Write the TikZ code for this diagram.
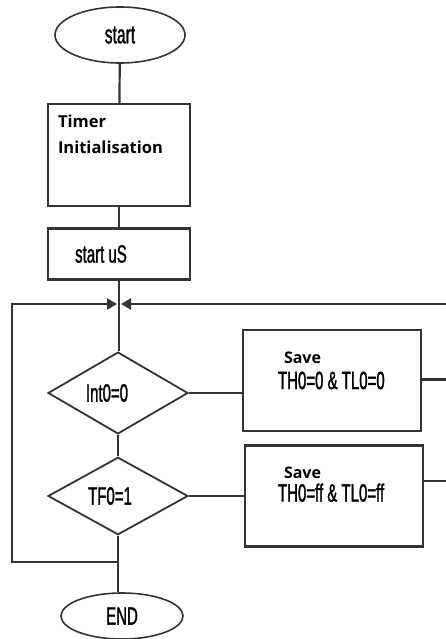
\documentclass[tikz,border=0pt]{standalone}
\usepackage{fontspec}
\setmainfont{Liberation Sans}
\newfontfamily\narrowf{Liberation Sans}[FakeStretch=0.6, FakeBold=1.2]
\newfontfamily\opens{Open Sans}
\usetikzlibrary{shapes.geometric,arrows.meta}
\definecolor{linec}{gray}{0.2}
\tikzset{
  conn/.style={draw=linec, line width=2.2pt},
  term/.style={ellipse, draw=linec, line width=1.6pt, inner sep=0pt},
  procbox/.style={rectangle, draw=linec, line width=2.2pt, inner sep=0pt},
  decide/.style={diamond, draw=linec, line width=1.8pt, inner sep=0pt, minimum width=140pt, minimum height=76pt},
  arr/.style={-{Triangle[length=10pt,width=11pt]}},
  nf/.style={font=\narrowf\fontsize{25}{25}\selectfont}
}
\begin{document}
\begin{tikzpicture}[x=1pt,y=-1pt]
\useasboundingbox (0,0) rectangle (446,639);
\fill[white] (0,0) rectangle (446,639);

\node[term, minimum width=130pt, minimum height=56pt, font=\narrowf\fontsize{26}{26}\selectfont] (start) at (120,35) {start};
\node[procbox, minimum width=142pt, minimum height=102pt] (timer) at (119,155)
  {\parbox[c][80pt][t]{122pt}{\opens\bfseries\fontsize{16.5}{26}\selectfont Timer\\Initialisation}};
\node[procbox, minimum width=142pt, minimum height=51pt, nf] (us) at (119,254) {start uS\kern36pt};

\coordinate (j) at (119,304);
\node[decide, nf] (d1) at (118,393) {Int0=0\kern22pt};
\node[decide, nf] (d2) at (118,496) {TF0=1\kern16pt};

\node[procbox, minimum width=178pt, minimum height=101pt] (b1) at (332,380.5)
  {\parbox[c][58pt][t]{130pt}{\fontsize{16}{26}\selectfont\hspace*{17pt}{\opens\bfseries Save}\\
   \hspace*{11pt}{\narrowf\fontsize{25}{26}\selectfont TH0=0 \& TL0=0}}};
\node[procbox, minimum width=178pt, minimum height=101pt] (b2) at (334,496)
  {\parbox[c][58pt][t]{130pt}{\fontsize{16}{23}\selectfont\hspace*{15pt}{\opens\bfseries Save}\\
   \hspace*{9pt}{\narrowf\fontsize{25}{23}\selectfont TH0=ff \& TL0=ff}}};

\node[term, minimum width=122pt, minimum height=46pt, font=\narrowf\fontsize{25}{25}\selectfont] (end) at (122,616) {END};

\coordinate (lb) at (119,562);
\coordinate (lc) at (12,562);
\coordinate (lt) at (12,304);
\coordinate (rt) at (446,304);

\draw[conn] (start) -- (timer);
\draw[conn] (timer) -- (us);
\draw[conn] (us.south) -- (us.south |- d1.north);
\draw[conn] (d1) -- (d2);
\draw[conn] (d2.south) -- (d2.south |- end.north);
\draw[conn, arr] (lb) -- (lc) -- (lt) -- ([xshift=-2pt]j);
\draw[conn, arr] (rt) -- ([xshift=2pt]j);
\draw[conn] (d1.east) -- (d1.east -| b1.west);
\draw[conn] ([yshift=1pt]b1.east) -- ([yshift=1pt]b1.east -| rt);
\draw[conn] (d2.east) -- (d2.east -| b2.west);
\draw[conn] ([yshift=15pt]b2.east) -- ([yshift=15pt]b2.east -| rt);
\end{tikzpicture}
\end{document}
